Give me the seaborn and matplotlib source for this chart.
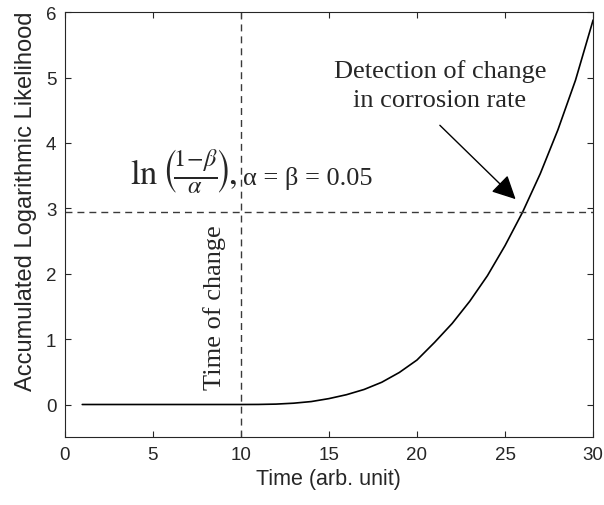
import matplotlib
matplotlib.use("Agg")
import matplotlib.pyplot as plt
import seaborn as sns
import pandas as pd

# Data
time = [1, 5, 10, 11, 12, 13, 14, 15, 16, 17, 18, 19, 20, 21, 22, 23, 24, 25,
        26, 27, 28, 29, 30]
llr = [0, 0, 0, 0.001, 0.006, 0.02, 0.045, 0.09, 0.15, 0.23, 0.34, 0.49, 0.68,
       0.95, 1.24, 1.58, 1.97, 2.43, 2.944, 3.53, 4.2, 4.96, 5.88]
threshold = 2.944
change_time = 10
x_ticks = [0, 5, 10, 15, 20, 25, 30]
y_ticks = [0, 1, 2, 3, 4, 5, 6]

df = pd.DataFrame({"Time": time, "LLR": llr})

sns.set_theme(style="white")
plt.rcParams["font.family"] = ["Liberation Sans", "DejaVu Sans"]
plt.rcParams["mathtext.fontset"] = "stix"

fig = plt.figure(figsize=(6.04, 5.06), dpi=100)
ax = fig.add_axes([0.107, 0.134, 0.875, 0.840])

sns.lineplot(data=df, x="Time", y="LLR", ax=ax, color="black", linewidth=1.2)

dash_kw = dict(color="#3a3a3a", linewidth=1.0, linestyle=(0, (5, 3.6)))
ax.axhline(threshold, **dash_kw)
ax.axvline(change_time, **dash_kw)

ax.set_xlim(0, 30)
ax.set_ylim(-0.5, 6)
ax.set_xticks(x_ticks)
ax.set_yticks(y_ticks)
ax.set_xlabel("Time (arb. unit)", fontsize=15.5, color="#262626", labelpad=4)
ax.set_ylabel("Accumulated Logarithmic Likelihood", fontsize=17, color="#262626")
ax.yaxis.set_label_coords(-0.052, 0.557)

for s in ax.spines.values():
    s.set_visible(True)
    s.set_color("#262626")
    s.set_linewidth(0.8)
ax.tick_params(direction="in", length=4, width=0.8, colors="#262626",
               labelsize=13.5, top=True, right=True, bottom=True, left=True, pad=6)

serif = ["Liberation Serif", "DejaVu Serif"]
ax.text(3.7, 3.37, r"$\ln\left(\!\frac{1\!-\!\beta}{\alpha}\!\right)\!,$", fontsize=25,
        ha="left", va="baseline", family=serif)
ax.text(10.1, 3.37, "α = β = 0.05", fontsize=19, ha="left", va="baseline", family=serif)
ax.text(21.3, 5.01, "Detection of change", fontsize=19, ha="center", va="baseline", family=serif)
ax.text(21.3, 4.57, "in corrosion rate", fontsize=19, ha="center", va="baseline", family=serif)
ax.text(8.5, 1.5, "Time of change", fontsize=19, rotation=90, ha="center", va="center", family=serif)

ax.annotate("", xy=(25.6, 3.14), xytext=(21.3, 4.27),
            arrowprops=dict(arrowstyle="-|>,head_length=0.6,head_width=0.3",
                            mutation_scale=24, lw=1.0, color="black",
                            shrinkA=0, shrinkB=0))

fig.savefig("out.png", dpi=100)
